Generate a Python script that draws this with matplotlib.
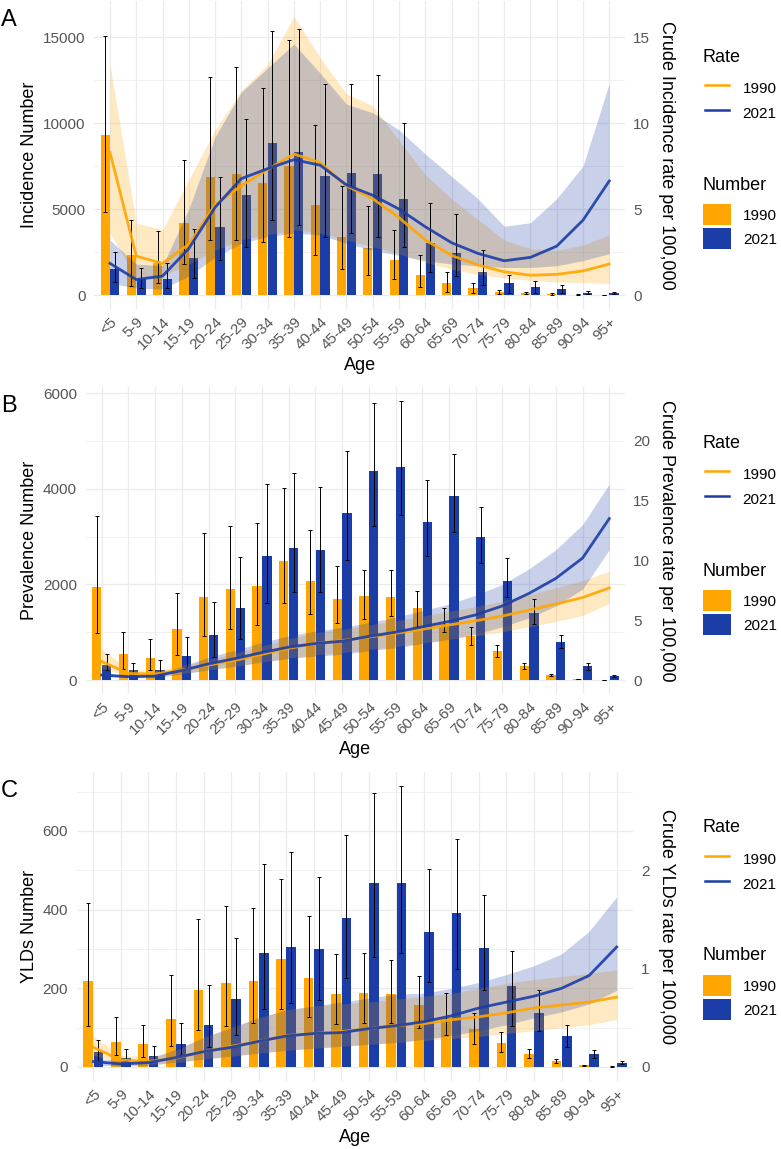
import numpy as np
import matplotlib
matplotlib.use('Agg')
import matplotlib.pyplot as plt
from matplotlib.lines import Line2D
from matplotlib.patches import Patch
from matplotlib.ticker import FixedLocator

plt.rcParams['font.family'] = ['Liberation Sans', 'DejaVu Sans']

ages = ['<5', '5-9', '10-14', '15-19', '20-24', '25-29', '30-34', '35-39',
        '40-44', '45-49', '50-54', '55-59', '60-64', '65-69', '70-74',
        '75-79', '80-84', '85-89', '90-94', '95+']

# A: incidence
inc_num_1990 = [9300, 2320, 1840, 4200, 6870, 7020, 6520, 7490, 5220, 3350,
                2710, 2030, 1160, 680, 390, 190, 100, 60, 15, 5]
inc_lo_1990 = [4840, 520, 720, 1780, 3190, 3190, 3090, 3390, 2320, 1490,
               1160, 910, 480, 190, 100, 60, 40, 25, 5, 2]
inc_hi_1990 = [15090, 4350, 3710, 7830, 12670, 13250, 12030, 14830, 9860, 6320,
               5160, 3770, 2320, 1350, 680, 290, 170, 110, 30, 12]
inc_num_2021 = [1490, 910, 910, 2130, 3930, 5840, 8860, 8320, 6920, 7120,
                7020, 5610, 3000, 2460, 1350, 680, 450, 330, 140, 100]
inc_lo_2021 = [770, 390, 390, 970, 2030, 2800, 4350, 4100, 3390, 3580,
               3390, 2770, 1350, 1100, 580, 100, 140, 100, 40, 50]
inc_hi_2021 = [2480, 1550, 1840, 3810, 6870, 10250, 15380, 15470, 12280, 12280,
               12820, 10000, 5360, 4740, 2610, 1160, 830, 560, 250, 150]
inc_rate_1990 = [8.3, 2.26, 1.84, 2.95, 5.25, 6.35, 7.3, 8.2, 7.7, 6.35,
                 5.6, 4.5, 3.2, 2.3, 1.75, 1.35, 1.15, 1.2, 1.4, 1.8]
inc_rate_1990_lo = [3.6, 1.0, 1.1, 1.8, 2.6, 3.2, 3.5, 3.8, 3.6, 3.2,
                    2.8, 2.4, 1.9, 1.5, 1.2, 1.0, 0.85, 0.75, 0.72, 0.68]
inc_rate_1990_hi = [13.4, 4.2, 3.8, 6.7, 9.6, 11.9, 13.4, 16.2, 13.8, 11.7,
                    11.0, 9.0, 7.0, 5.6, 4.4, 3.2, 2.7, 2.6, 2.9, 3.5]
inc_rate_2021 = [1.84, 0.9, 1.1, 2.7, 5.1, 6.77, 7.35, 7.87, 7.55, 6.4,
                 5.8, 5.0, 3.97, 3.04, 2.42, 1.99, 2.19, 2.84, 4.35, 6.63]
inc_rate_2021_lo = [0.7, 0.4, 0.35, 1.1, 2.2, 3.0, 3.4, 3.6, 3.5, 3.0,
                    2.6, 2.3, 2.0, 1.8, 1.7, 1.6, 1.6, 1.7, 2.0, 2.4]
inc_rate_2021_hi = [3.2, 1.8, 1.7, 5.0, 9.2, 11.8, 13.2, 14.6, 12.9, 11.1,
                    10.6, 9.6, 8.2, 6.9, 5.6, 4.0, 4.2, 5.6, 7.5, 12.3]

# B: prevalence
prev_num_1990 = [1950, 540, 470, 1060, 1730, 1900, 1970, 2490, 2080, 1690,
                 1760, 1730, 1500, 1180, 920, 610, 290, 100, 20, 5]
prev_lo_1990 = [980, 240, 210, 520, 920, 1060, 1160, 1600, 1380, 1190,
                1270, 1340, 1100, 1000, 730, 480, 230, 85, 15, 3]
prev_hi_1990 = [3430, 1010, 850, 1810, 3080, 3230, 3280, 4010, 3140, 2380,
                2310, 2290, 1870, 1515, 1115, 732, 362, 125, 28, 8]
prev_num_2021 = [310, 200, 210, 500, 940, 1510, 2600, 2750, 2720, 3500,
                 4380, 4450, 3310, 3850, 3000, 2070, 1410, 800, 300, 90]
prev_lo_2021 = [210, 140, 100, 280, 490, 850, 1620, 1850, 1850, 2510,
                3220, 3450, 2590, 3100, 2450, 1730, 1180, 660, 210, 56]
prev_hi_2021 = [540, 360, 420, 890, 1640, 2580, 4100, 4320, 4040, 4790,
                5800, 5840, 4180, 4730, 3620, 2544, 1687, 941, 362, 112]
prev_rate_1990 = [1.55, 0.55, 0.5, 0.85, 1.25, 1.65, 2.15, 2.65, 3.05, 3.3,
                  3.6, 3.9, 4.25, 4.6, 4.95, 5.35, 5.85, 6.35, 6.9, 7.7]
prev_rate_1990_lo = [1.0, 0.35, 0.3, 0.55, 0.85, 1.15, 1.5, 1.85, 2.1, 2.3,
                     2.55, 2.8, 3.1, 3.4, 3.7, 4.05, 4.45, 4.9, 5.4, 6.4]
prev_rate_1990_hi = [2.6, 0.9, 0.8, 1.2, 1.7, 2.25, 2.85, 3.45, 3.95, 4.25,
                     4.6, 4.95, 5.35, 5.75, 6.15, 6.6, 7.15, 7.7, 8.3, 9.1]
prev_rate_2021 = [0.42, 0.28, 0.33, 0.8, 1.35, 1.8, 2.3, 2.75, 3.05, 3.25,
                  3.65, 4.0, 4.45, 4.9, 5.45, 6.2, 7.25, 8.5, 10.2, 13.5]
prev_rate_2021_lo = [0.3, 0.2, 0.2, 0.5, 0.85, 1.15, 1.5, 1.8, 2.0, 2.15,
                     2.45, 2.7, 3.05, 3.4, 3.85, 4.45, 5.2, 6.2, 7.6, 10.9]
prev_rate_2021_hi = [0.6, 0.4, 0.45, 1.15, 1.9, 2.5, 3.15, 3.7, 4.1, 4.4,
                     4.8, 5.25, 5.8, 6.35, 7.1, 8.0, 9.3, 10.9, 13.0, 16.4]

# C: YLDs
yld_num_1990 = [219, 64, 58, 121, 196, 214, 219, 275, 227, 186,
                187, 185, 158, 125, 96, 62, 32, 14, 4, 1]
yld_lo_1990 = [103, 31, 26, 53, 94, 103, 111, 147, 128, 109,
               113, 113, 98, 81, 58, 39, 23, 9, 3, 0.5]
yld_hi_1990 = [418, 126, 106, 234, 375, 409, 403, 477, 384, 287,
               291, 272, 231, 189, 137, 90, 45, 19, 6, 2]
yld_num_2021 = [39, 24, 28, 58, 107, 172, 291, 304, 299, 380,
                467, 469, 344, 391, 302, 205, 136, 78, 32, 11]
yld_lo_2021 = [14, 14, 14, 31, 52, 81, 147, 162, 169, 225,
               279, 291, 217, 248, 196, 105, 92, 52, 24, 8]
yld_hi_2021 = [69, 45, 53, 111, 208, 327, 516, 546, 482, 590,
               696, 714, 503, 580, 436, 295, 196, 106, 42, 14]
yld_rate_1990 = [0.2, 0.07, 0.055, 0.09, 0.155, 0.21, 0.26, 0.32, 0.34, 0.36,
                 0.39, 0.42, 0.44, 0.48, 0.51, 0.55, 0.6, 0.63, 0.66, 0.71]
yld_rate_1990_lo = [0.12, 0.03, 0.025, 0.045, 0.08, 0.11, 0.14, 0.17, 0.19, 0.21,
                    0.23, 0.25, 0.27, 0.29, 0.31, 0.34, 0.37, 0.4, 0.43, 0.48]
yld_rate_1990_hi = [0.31, 0.12, 0.1, 0.17, 0.3, 0.4, 0.5, 0.58, 0.62, 0.64,
                    0.66, 0.69, 0.72, 0.75, 0.8, 0.85, 0.89, 0.92, 0.95, 0.99]
yld_rate_2021 = [0.055, 0.03, 0.045, 0.095, 0.155, 0.2, 0.26, 0.315, 0.34, 0.35,
                 0.39, 0.42, 0.46, 0.52, 0.6, 0.66, 0.72, 0.8, 0.93, 1.22]
yld_rate_2021_lo = [0.02, 0.01, 0.015, 0.05, 0.08, 0.11, 0.14, 0.17, 0.19, 0.21,
                    0.23, 0.25, 0.28, 0.32, 0.37, 0.43, 0.5, 0.56, 0.64, 0.78]
yld_rate_2021_hi = [0.09, 0.06, 0.08, 0.18, 0.3, 0.4, 0.5, 0.58, 0.62, 0.66,
                    0.7, 0.74, 0.75, 0.8, 0.86, 0.94, 1.03, 1.15, 1.38, 1.73]

W, H = 781, 1149
ORANGE = '#FFA600'
BLUE = '#1B3DA8'
GRID = '#EBEBEB'
TICK = '#555555'

fig = plt.figure(figsize=(W / 100, H / 100), dpi=100)


def px_axes(x0, y0, x1, y1):
    return fig.add_axes([x0 / W, 1 - y1 / H, (x1 - x0) / W, (y1 - y0) / H])


def draw_panel(box, tag, nums, los, his, rates, rlos, rhis, ylim, yticks,
               yminor, factor, rticks, ylabel, rlabel):
    ax = px_axes(*box)
    x = np.arange(len(ages))
    cols = [ORANGE, BLUE]
    offs = [-0.185, 0.185]

    for n, lo, hi, c, o in zip(nums, los, his, cols, offs):
        n, lo, hi = np.array(n), np.array(lo), np.array(hi)
        ax.bar(x + o, n, width=0.35, color=c, zorder=2, lw=0)
        ax.errorbar(x + o, n, yerr=[n - lo, hi - n], fmt='none', ecolor='black',
                    elinewidth=0.7, capsize=1.6, capthick=0.7, zorder=4)

    # uncertainty ribbons for the rates, then the rate lines
    for r, rl, rh, c in zip(rates, rlos, rhis, cols):
        ax.fill_between(x, np.array(rl) * factor, np.array(rh) * factor,
                        color=c, alpha=0.24, lw=0, zorder=3)
    for r, c in zip(rates, cols):
        ax.plot(x, np.array(r) * factor, color=c, lw=2.0, alpha=0.9, zorder=5)

    ax.set_xlim(-0.6, len(ages) - 0.4)
    ax.set_ylim(*ylim)
    ax.set_xticks(x)
    ax.set_xticklabels(ages, rotation=45, ha='right', va='top',
                       rotation_mode='anchor')
    ax.set_yticks(yticks)
    ax.yaxis.set_minor_locator(FixedLocator(yminor))
    ax.tick_params(which='both', length=0, labelsize=11, labelcolor=TICK)
    ax.tick_params(axis='y', pad=6.3)
    ax.tick_params(axis='x', pad=4)
    ax.grid(which='major', color=GRID, lw=0.9, zorder=0)
    ax.grid(which='minor', axis='y', color=GRID, lw=0.5, zorder=0)
    ax.set_axisbelow(True)
    for s in ax.spines.values():
        s.set_visible(False)

    sec = ax.secondary_yaxis('right', functions=(lambda v, f=factor: v / f,
                                                 lambda v, f=factor: v * f))
    sec.set_yticks(rticks)
    sec.tick_params(length=0, labelsize=11, labelcolor=TICK, pad=5.8)
    sec.spines['right'].set_visible(False)

    x0, y0, x1, y1 = box
    ax.set_xlabel('Age', fontsize=13, va='center')
    ax.xaxis.set_label_coords(0.5, -56 / (y1 - y0))
    fig.text(29 / W, 1 - (y0 + y1) / 2 / H, ylabel, rotation=90, fontsize=13,
             ha='center', va='center')
    fig.text(666 / W, 1 - (y0 + y1) / 2 / H, rlabel, rotation=270, fontsize=13,
             ha='center', va='center')
    fig.text(1 / W, 1 - (y0 + 19) / H, tag, fontsize=17, ha='left', va='center')

    # legends
    fig.text(703 / W, 1 - (y0 + 56) / H, 'Rate', fontsize=13, ha='left', va='center')
    fig.text(703 / W, 1 - (y0 + 184) / H, 'Number', fontsize=13, ha='left', va='center')
    rate_h = [Line2D([], [], color=c, lw=1.8) for c in cols]
    num_h = [Patch(facecolor=c, edgecolor='none') for c in cols]
    fig.legend(rate_h, ['1990', '2021'], loc='upper left',
               bbox_to_anchor=(705 / W, 1 - (y0 + 76) / H), frameon=False,
               fontsize=11, handlelength=1.6, handleheight=1.75,
               handletextpad=0.85, labelspacing=0.27, borderpad=0,
               borderaxespad=0)
    fig.legend(num_h, ['1990', '2021'], loc='upper left',
               bbox_to_anchor=(703 / W, 1 - (y0 + 203) / H), frameon=False,
               fontsize=11, handlelength=1.83, handleheight=1.77,
               handletextpad=0.78, labelspacing=0.18, borderpad=0,
               borderaxespad=0)
    return ax


draw_panel((94.2, 1, 625, 309), 'A',
           [inc_num_1990, inc_num_2021], [inc_lo_1990, inc_lo_2021],
           [inc_hi_1990, inc_hi_2021], [inc_rate_1990, inc_rate_2021],
           [inc_rate_1990_lo, inc_rate_2021_lo], [inc_rate_1990_hi, inc_rate_2021_hi],
           (-814, 17100), [0, 5000, 10000, 15000], [2500, 7500, 12500],
           1000, [0, 5, 10, 15], 'Incidence Number',
           'Crude Incidence rate per 100,000')

draw_panel((85.7, 387, 625.3, 694), 'B',
           [prev_num_1990, prev_num_2021], [prev_lo_1990, prev_lo_2021],
           [prev_hi_1990, prev_hi_2021], [prev_rate_1990, prev_rate_2021],
           [prev_rate_1990_lo, prev_rate_2021_lo], [prev_rate_1990_hi, prev_rate_2021_hi],
           (-292, 6126), [0, 2000, 4000, 6000], [1000, 3000, 5000],
           250, [0, 5, 10, 15, 20], 'Prevalence Number',
           'Crude Prevalence rate per 100,000')

draw_panel((76.8, 772, 633.2, 1081), 'C',
           [yld_num_1990, yld_num_2021], [yld_lo_1990, yld_lo_2021],
           [yld_hi_1990, yld_hi_2021], [yld_rate_1990, yld_rate_2021],
           [yld_rate_1990_lo, yld_rate_2021_lo], [yld_rate_1990_hi, yld_rate_2021_hi],
           (-35.7, 750), [0, 200, 400, 600], [100, 300, 500, 700],
           250, [0, 1, 2], 'YLDs Number',
           'Crude YLDs rate per 100,000')

fig.savefig('out.png', dpi=100)
